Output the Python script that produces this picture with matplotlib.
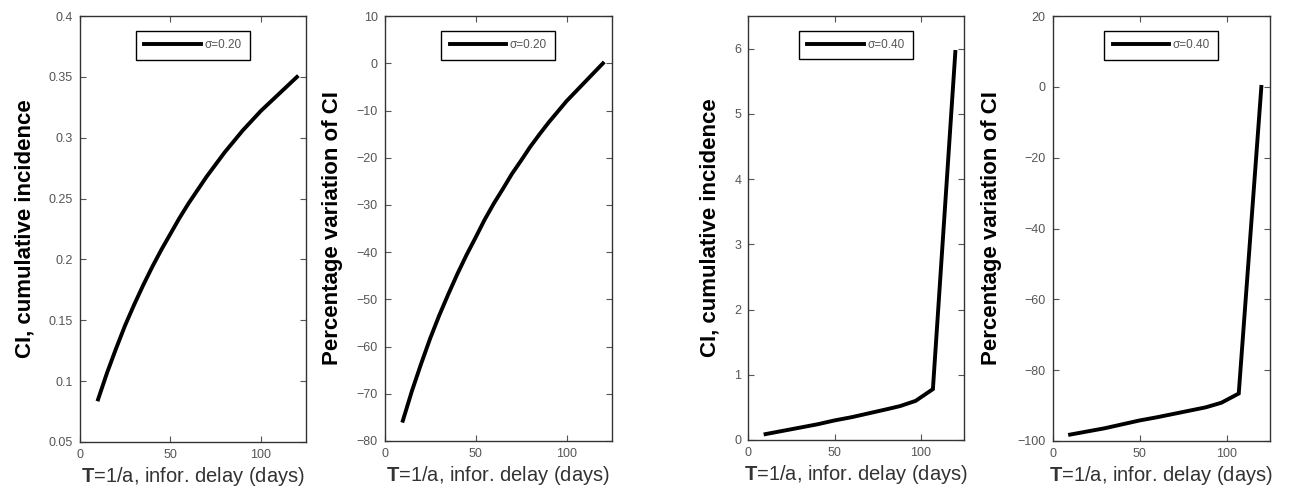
import matplotlib.pyplot as plt

plt.rcParams['font.family'] = ['Liberation Sans', 'DejaVu Sans']
plt.rcParams['mathtext.fontset'] = 'custom'
plt.rcParams['mathtext.bf'] = 'Liberation Sans:bold'
plt.rcParams['mathtext.rm'] = 'Liberation Sans'

# sigma = 0.20 : cumulative incidence and its percentage variation
T_020 = [10, 15, 20, 25, 30, 35, 40, 45, 50, 55, 60, 65, 70, 75, 80, 85,
         90, 95, 100, 105, 110, 115, 120]
ci_020 = [0.085, 0.107, 0.127, 0.146, 0.163, 0.179, 0.194, 0.208, 0.221,
          0.234, 0.246, 0.257, 0.268, 0.278, 0.288, 0.297, 0.306, 0.314,
          0.322, 0.329, 0.336, 0.343, 0.350]
pct_020 = [-75.7, -69.4, -63.7, -58.3, -53.4, -48.9, -44.6, -40.6, -36.9,
           -33.1, -29.7, -26.6, -23.4, -20.6, -17.7, -15.1, -12.6, -10.3,
           -8.0, -6.0, -4.0, -2.0, 0.0]

# sigma = 0.40
T_040 = [10, 20, 30, 40, 50, 60, 70, 80, 88, 97, 107, 120]
ci_040 = [0.09, 0.14, 0.19, 0.24, 0.30, 0.35, 0.41, 0.47, 0.52, 0.60, 0.78, 5.95]
pct_040 = [-98.2, -97.3, -96.4, -95.3, -94.2, -93.3, -92.3, -91.3, -90.5, -89.2, -86.6, 0.0]

xlab = r'$\mathbf{T}$=1/a, infor. delay (days)'
panels = [
    # x, y, legend, ylabel, ylim, yticks, ytick labels, axes rect, ylabel x
    (T_020, ci_020, 'σ=0.20', 'CI, cumulative incidence', (0.05, 0.4),
     [0.05, 0.1, 0.15, 0.2, 0.25, 0.3, 0.35, 0.4],
     ['0.05', '0.1', '0.15', '0.2', '0.25', '0.3', '0.35', '0.4'],
     [0.0614, 0.1178, 0.1734, 0.850], -0.199),
    (T_020, pct_020, 'σ=0.20', 'Percentage variation of CI', (-80, 10),
     list(range(-80, 11, 10)), None,
     [0.2952, 0.1198, 0.1745, 0.848], -0.182),
    (T_040, ci_040, 'σ=0.40', 'CI, cumulative incidence', (0, 6.5),
     [0, 1, 2, 3, 4, 5, 6], None,
     [0.5743, 0.1218, 0.1655, 0.846], -0.131),
    (T_040, pct_040, 'σ=0.40', 'Percentage variation of CI', (-100, 20),
     list(range(-100, 21, 20)), None,
     [0.8079, 0.1198, 0.1668, 0.848], -0.235),
]

fig = plt.figure(figsize=(13.03, 5.01), dpi=100)
grey = '#555555'
for x, y, lab, ylab, ylim, yt, ytl, rect, ylx in panels:
    ax = fig.add_axes(rect)
    ax.plot(x, y, color='black', lw=2.8, label=lab, solid_joinstyle='miter')
    ax.set_xlim(0, 125)
    ax.set_ylim(*ylim)
    ax.set_xticks([0, 50, 100])
    ax.set_yticks(yt)
    if ytl:
        ax.set_yticklabels(ytl)
    ax.tick_params(direction='in', top=True, right=True, length=4,
                   labelsize=9, colors=grey, labelcolor=grey, pad=5)
    for s in ax.spines.values():
        s.set_color('#333333')
        s.set_linewidth(1.0)
    ax.set_ylabel(ylab, fontsize=16, fontweight='bold')
    ax.yaxis.set_label_coords(ylx, 0.5)
    ax.set_xlabel(xlab, fontsize=14.5, color='#333333', labelpad=3)
    leg = ax.legend(loc='upper center', bbox_to_anchor=(0.5, 0.965),
                    borderaxespad=0, fancybox=False, framealpha=1,
                    edgecolor='black', fontsize=8.5, handlelength=4.8,
                    handletextpad=0.3, borderpad=0.7)
    leg.get_frame().set_linewidth(1.0)
    for t in leg.get_texts():
        t.set_color(grey)

fig.savefig('out.png', dpi=100)
